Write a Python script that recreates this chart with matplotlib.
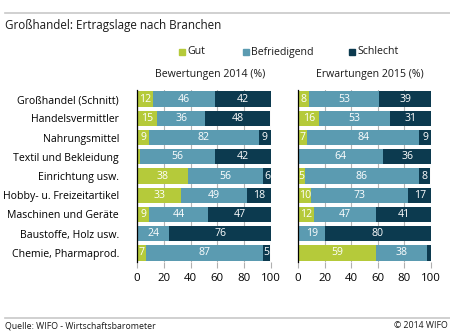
import matplotlib
matplotlib.use("Agg")
import matplotlib.pyplot as plt
from matplotlib.patches import Rectangle
from matplotlib.lines import Line2D
import numpy as np

plt.rcParams['font.family'] = ['Open Sans', 'DejaVu Sans']

categories = ["Großhandel (Schnitt)", "Handelsvermittler", "Nahrungsmittel",
              "Textil und Bekleidung", "Einrichtung usw.", "Hobby- u. Freizeitartikel",
              "Maschinen und Geräte", "Baustoffe, Holz usw.", "Chemie, Pharmaprod."]

gut_2014 = [12, 15, 9, 2, 38, 33, 9, 0, 7]
bef_2014 = [46, 36, 82, 56, 56, 49, 44, 24, 87]
sch_2014 = [42, 48, 9, 42, 6, 18, 47, 76, 5]

gut_2015 = [8, 16, 7, 0, 5, 10, 12, 1, 59]
bef_2015 = [53, 53, 84, 64, 86, 73, 47, 19, 38]
sch_2015 = [39, 31, 9, 36, 8, 17, 41, 80, 3]

series_names = ["Gut", "Befriedigend", "Schlecht"]
colors = ["#b5ca3a", "#5b9bb1", "#0c3a4f"]
xticks = [0, 20, 40, 60, 80, 100]

W, H = 450, 333
fig = plt.figure(figsize=(W / 100, H / 100), dpi=100)

def fx(px):
    return px / W

def fy(py):
    return 1 - py / H

ax_bottom = fy(262)
ax_height = (262 - 90) / H
ax1 = fig.add_axes([fx(137), ax_bottom, (271 - 137) / W, ax_height])
ax2 = fig.add_axes([fx(298), ax_bottom, (431 - 298) / W, ax_height])

fs = 7.4
y = np.arange(len(categories))

def draw(ax, data):
    left = np.zeros(len(categories))
    for vals, col in zip(data, colors):
        vals = np.array(vals, dtype=float)
        ax.barh(y, vals, left=left, height=0.8, color=col, zorder=2, linewidth=0)
        for yi, (l, v) in enumerate(zip(left, vals)):
            if v >= 5:
                ax.text(l + v / 2, yi, f"{int(v)}", ha="center", va="center",
                        color="white", fontsize=fs + 0.2, zorder=3)
        left += vals
    ax.set_xlim(0, 100)
    ax.set_ylim(len(categories) - 0.53, -0.47)
    ax.set_xticks(xticks)
    ax.set_xticklabels([str(t) for t in xticks], fontsize=fs + 0.8)
    ax.tick_params(axis="x", length=4, color="#b0b0b0", pad=4, width=0.8)
    ax.tick_params(axis="y", length=0)
    ax.grid(axis="x", color="#b5b5b5", linewidth=0.8, zorder=0)
    for s in ["top", "right", "bottom"]:
        ax.spines[s].set_visible(False)
    ax.spines["left"].set_color("black")
    ax.spines["left"].set_linewidth(0.9)
    ax.spines["left"].set_zorder(4)

draw(ax1, [gut_2014, bef_2014, sch_2014])
draw(ax2, [gut_2015, bef_2015, sch_2015])
ax1.set_yticks(y)
ax1.set_yticklabels(categories, fontsize=fs + 0.2)
ax1.tick_params(axis="y", pad=13)
ax2.set_yticks([])

# top and bottom rules
fig.add_artist(Line2D([fx(5), 1], [fy(13), fy(13)], color="#c8c8c8", linewidth=1.2))
fig.add_artist(Line2D([fx(5), 1], [fy(318), fy(318)], color="#c8c8c8", linewidth=1.2))

fig.text(fx(5), fy(25), "Großhandel: Ertragslage nach Branchen", fontsize=8.4,
         ha="left", va="center", color="#1a1a1a")

# legend
leg_x = [179, 243, 349]
for lx, name, col in zip(leg_x, series_names, colors):
    fig.add_artist(Rectangle((fx(lx), fy(55)), 5.5 / W, 5.5 / H, color=col,
                             transform=fig.transFigure))
    fig.text(fx(lx + 8), fy(52), name, fontsize=fs + 0.2, ha="left", va="center",
             color="#1a1a1a")

fig.text(fx(210), fy(75), "Bewertungen 2014 (%)", fontsize=fs + 0.2, ha="center",
         va="center", color="#1a1a1a")
fig.text(fx(370), fy(75), "Erwartungen 2015 (%)", fontsize=fs + 0.2, ha="center",
         va="center", color="#1a1a1a")

fig.text(fx(5), fy(326), "Quelle: WIFO - Wirtschaftsbarometer", fontsize=6.3,
         ha="left", va="center", color="#1a1a1a")
fig.text(fx(448), fy(326), "© 2014 WIFO", fontsize=6.3, ha="right", va="center",
         color="#1a1a1a")

fig.savefig("out.png", dpi=100)
